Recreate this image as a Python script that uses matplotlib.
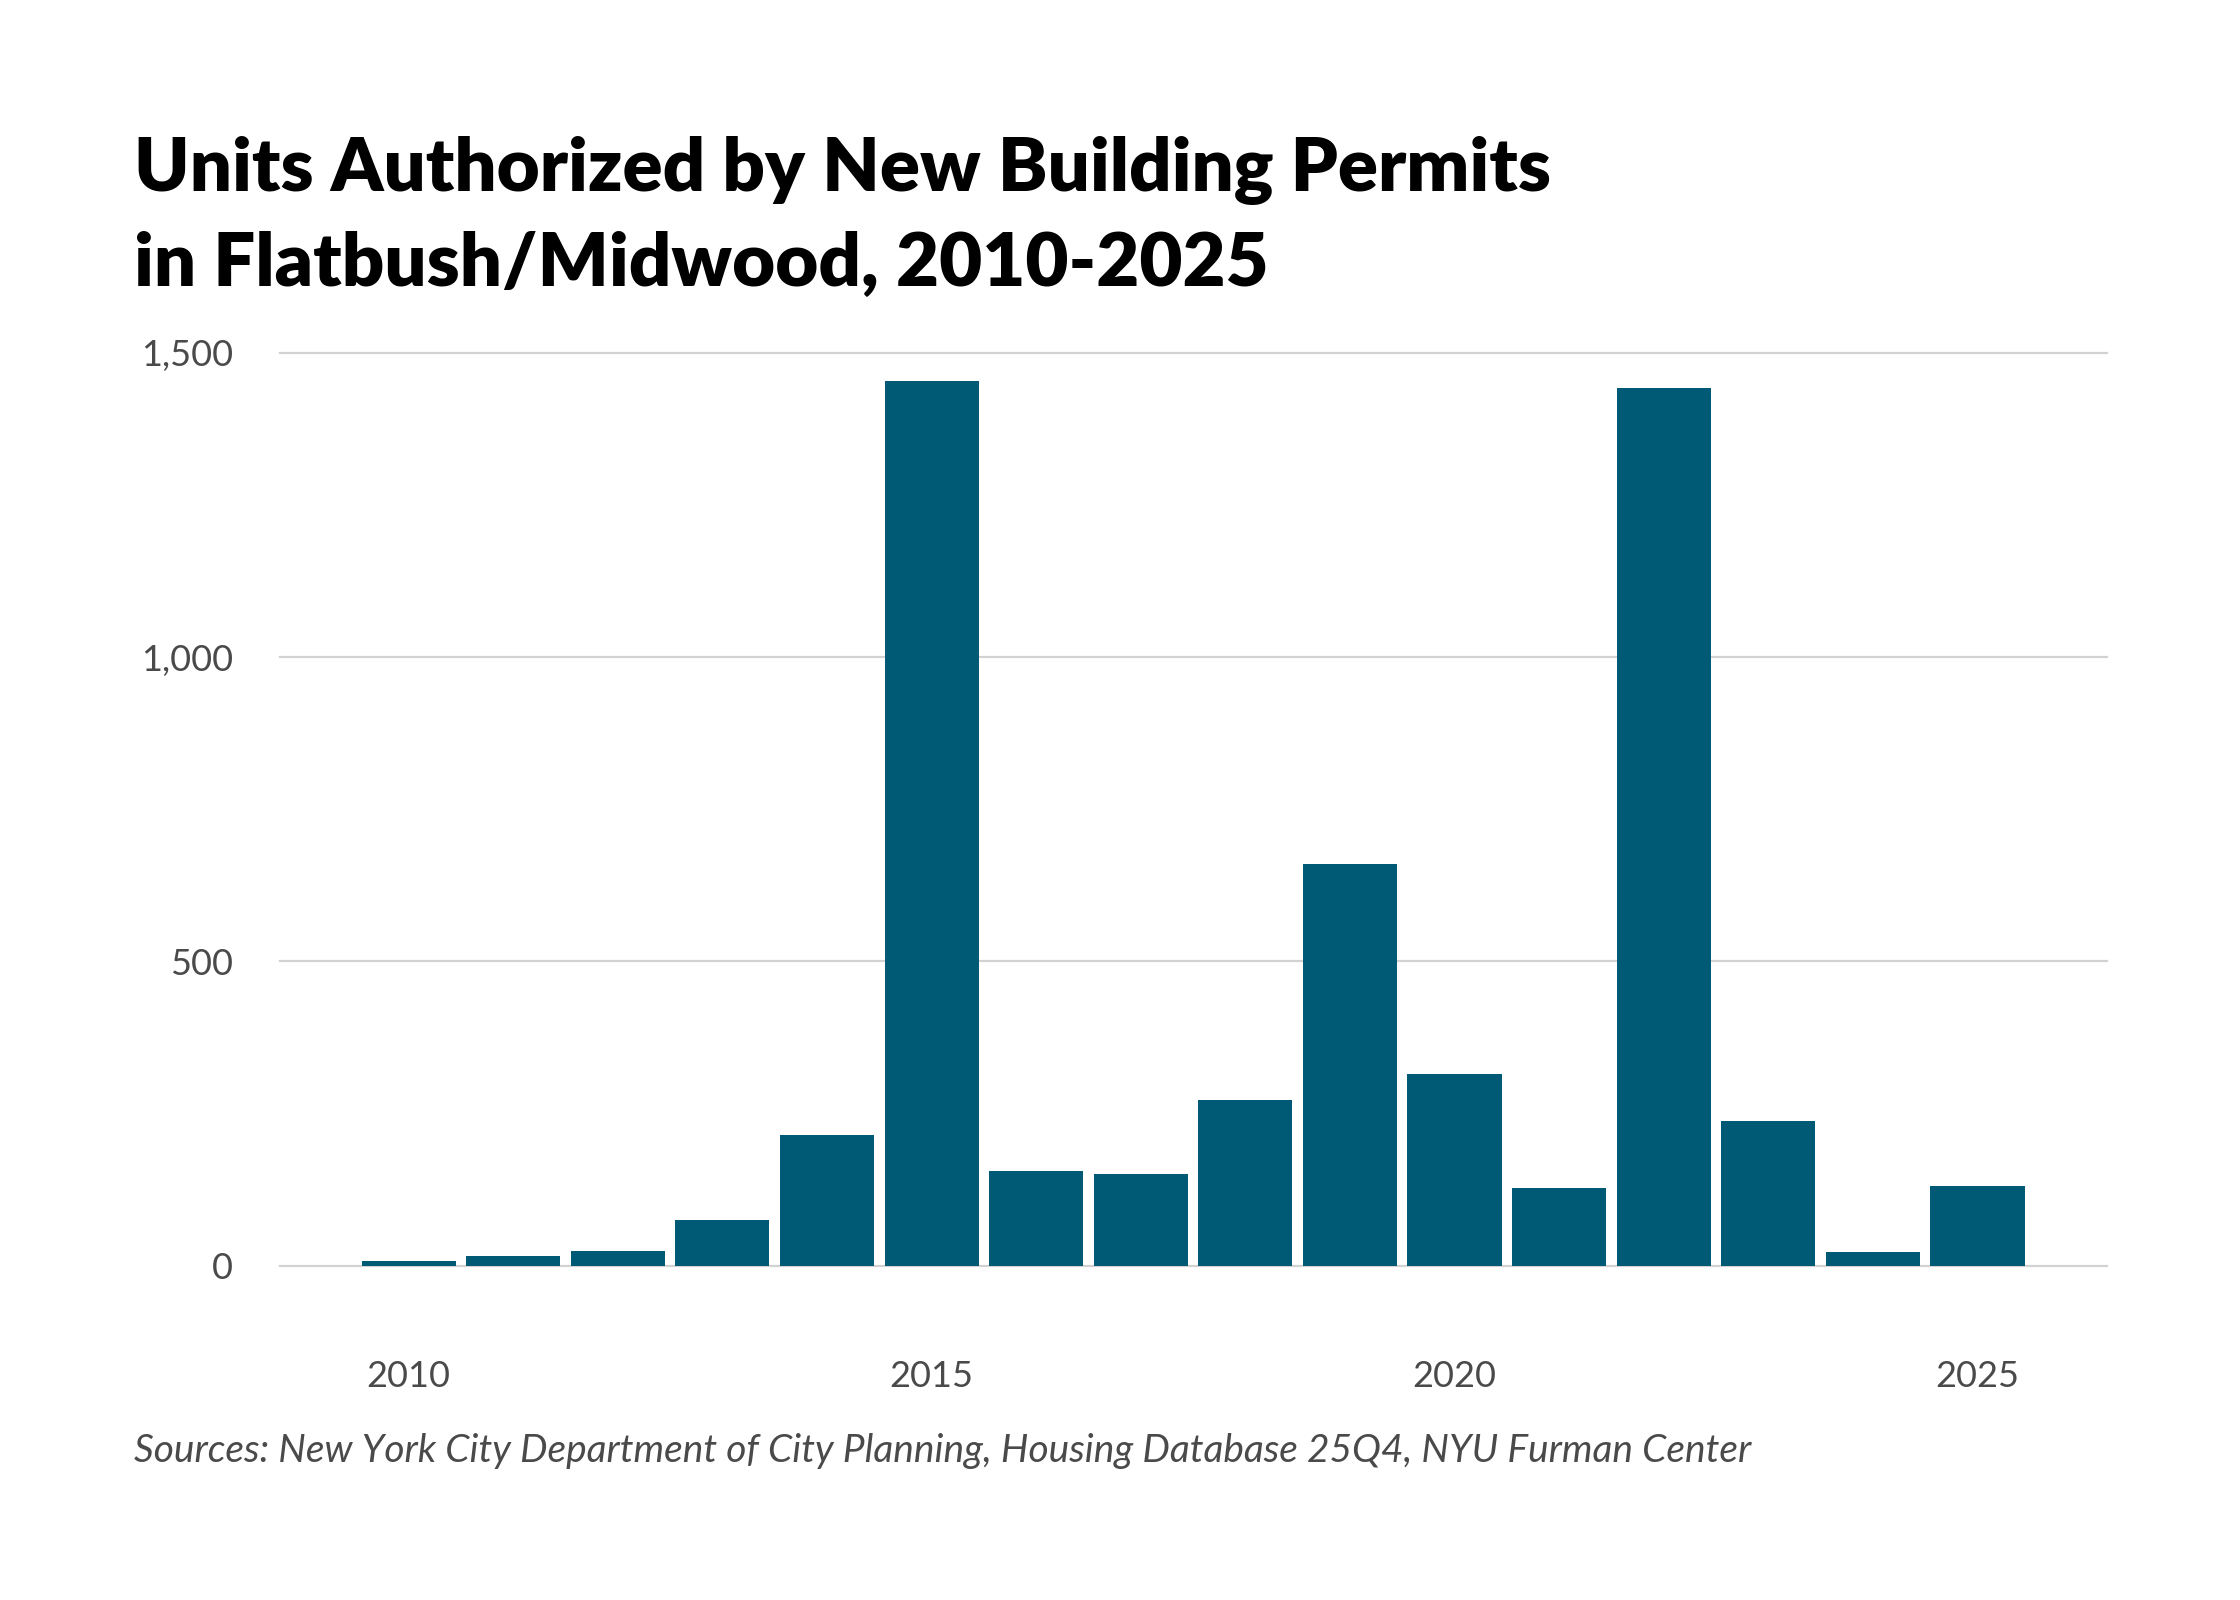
import matplotlib
matplotlib.use("Agg")
import matplotlib.pyplot as plt
from matplotlib.ticker import FuncFormatter

# units authorized by new building permits, Flatbush/Midwood
years = [2010, 2011, 2012, 2013, 2014, 2015, 2016, 2017,
         2018, 2019, 2020, 2021, 2022, 2023, 2024, 2025]
units = [8, 16, 24, 75, 215, 1453, 156, 151,
         272, 660, 315, 128, 1442, 238, 23, 131]
yticks = [0, 500, 1000, 1500]
xticks = [2010, 2015, 2020, 2025]

title = "Units Authorized by New Building Permits\nin Flatbush/Midwood, 2010-2025"
source = "Sources: New York City Department of City Planning, Housing Database 25Q4, NYU Furman Center"

bar_color = "#015a75"
grid_color = "#d2d2d2"
label_color = "#4a4a4a"

plt.rcParams["font.family"] = ["Lato", "DejaVu Sans"]

fig = plt.figure(figsize=(22.4, 16), dpi=100)
ax = fig.add_axes([0.125, 0.2089, 0.8157, 0.5707])

ax.bar(years, units, width=0.9, color=bar_color, zorder=3)

ax.set_xlim(2008.77, 2026.24)
ax.set_ylim(0, 1500)
ax.set_yticks(yticks)
ax.set_xticks(xticks)
ax.yaxis.set_major_formatter(FuncFormatter(lambda v, p: f"{int(v):,}"))

for y in yticks:
    ax.axhline(y, color=grid_color, lw=1.6, zorder=1, clip_on=False)

for s in ax.spines.values():
    s.set_visible(False)

ax.tick_params(axis="both", length=0, labelsize=26, labelcolor=label_color)
ax.tick_params(axis="y", pad=34)
ax.tick_params(axis="x", pad=68)

fig.text(0.06, 0.915, title, fontsize=53.5, fontweight="heavy", color="black",
         ha="left", va="top", linespacing=1.47)
fig.text(0.06, 0.086, source, fontsize=28, style="italic", color=label_color,
         ha="left", va="baseline")

fig.savefig("out.png", dpi=100, facecolor="white")
